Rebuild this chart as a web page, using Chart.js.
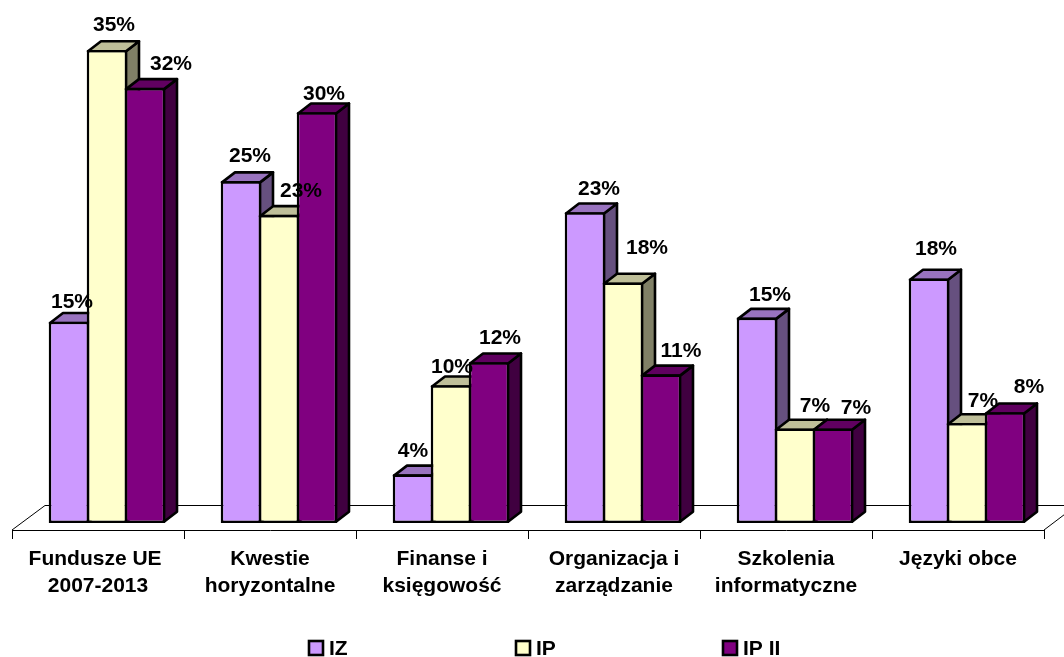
<!DOCTYPE html>
<html>
<head>
<meta charset="utf-8">
<style>html,body{margin:0;padding:0;background:#fff}canvas{display:block}</style>
<script src="https://cdn.jsdelivr.net/npm/chart.js@4"></script>
</head>
<body>
<canvas id="c" width="1064" height="657"></canvas>
<script>
const categories = [['Fundusze UE ','2007-2013'],['Kwestie','horyzontalne'],['Finanse i','księgowość'],['Organizacja i','zarządzanie'],['Szkolenia','informatyczne'],['Języki obce']];
const seriesNames = ['IZ','IP','IP II'];
const izValues = [14.9,25.3,3.6,23,15.2,18.1];
const ipValues = [35,22.8,10.2,17.8,7,7.4];
const ip2Values = [32.2,30.4,11.9,11,7,8.2];
const seriesColors = ['#CC99FF','#FFFFCC','#800080'];
const topColors = ['#9973BF','#BFBF99','#600060'];
const sideColors = ['#66507F','#808066','#400040'];
const labelFont = 'bold 21px "Liberation Sans", Arial, sans-serif';
const DEPTH_X = 13, DEPTH_Y = 10, AXIS_SHIFT = 9, AXIS_DROP = 8, EDGE = 2.6;
// manual label placement, as in the original: offset from bar centre / bar top
const labelDX = [[3,9,0,14,13,7],[7,22,1,24,20,16],[26,7,11,20,23,24]];
const labelDY = [[-14,-19,-17,-17,-17,-23],[-19,-18,-12,-28,-16,-16],[-18,-12,-18,-17,-14,-19]];
const legendX = [309,516,723];

function poly(ctx, pts, fill){
  ctx.beginPath();
  pts.forEach((p,i)=> i ? ctx.lineTo(p[0],p[1]) : ctx.moveTo(p[0],p[1]));
  ctx.closePath();
  ctx.fillStyle = fill; ctx.fill();
  ctx.lineWidth = EDGE; ctx.strokeStyle = '#000'; ctx.lineJoin='round'; ctx.stroke();
}

const bars3d = {
  id:'bars3d',
  beforeDatasetDraw(){ return false; },
  beforeDatasetsDraw(chart){
    const {ctx, chartArea:a, scales:{x}} = chart;
    const step = x.getPixelForValue(1) - x.getPixelForValue(0);
    const left = x.getPixelForValue(0) - step/2 - AXIS_SHIFT;
    const n = categories.length;
    const yFront = a.bottom + AXIS_DROP - 1, yBack = yFront - 25;
    ctx.save();
    ctx.strokeStyle='#000'; ctx.lineWidth=1;
    ctx.beginPath();
    ctx.moveTo(left+.5,yFront+.5); ctx.lineTo(left+n*step+.5,yFront+.5);
    for(let i=0;i<=n;i++){ const t=Math.round(left+i*step)+.5; ctx.moveTo(t,yFront); ctx.lineTo(t,yFront+9); }
    ctx.moveTo(left,yFront); ctx.lineTo(left+33,yBack+.5); ctx.lineTo(left+n*step+33,yBack+.5);
    ctx.moveTo(left+n*step,yFront); ctx.lineTo(left+n*step+33,yBack);
    ctx.stroke();
    // paint series left to right so each bar covers the depth faces of its left neighbour
    chart.data.datasets.forEach((d,ds)=>{
      const meta = chart.getDatasetMeta(ds);
      meta.data.forEach(b=>{
        const {x,y,base,width} = b.getProps(['x','y','base','width'],true);
        const i=EDGE/2, l=x-width/2+i, r=x+width/2-i, t=y+i, bt=base-i;
        poly(ctx,[[r,t],[r+DEPTH_X,t-DEPTH_Y],[r+DEPTH_X,bt-DEPTH_Y],[r,bt]],sideColors[ds]);
        poly(ctx,[[l,t],[l+DEPTH_X,t-DEPTH_Y],[r+DEPTH_X,t-DEPTH_Y],[r,t]],topColors[ds]);
      });
      meta.controller.draw();
    });
    ctx.restore();
  },
  afterDatasetsDraw(chart){
    const ctx = chart.ctx;
    ctx.save();
    ctx.font = labelFont; ctx.fillStyle='#000'; ctx.textAlign='center'; ctx.textBaseline='alphabetic';
    chart.data.datasets.forEach((d,s)=>{
      chart.getDatasetMeta(s).data.forEach((b,i)=>{
        const p = b.getProps(['x','y'],true);
        ctx.fillText(Math.round(d.data[i])+'%', p.x+labelDX[s][i], p.y+labelDY[s][i]);
      });
    });
    ctx.textAlign='left';
    seriesNames.forEach((name,s)=>{
      ctx.fillStyle=seriesColors[s]; ctx.strokeStyle='#000'; ctx.lineWidth=2.6;
      ctx.fillRect(legendX[s],641,14,14); ctx.strokeRect(legendX[s],641,14,14);
      ctx.fillStyle='#000';
      ctx.fillText(name,legendX[s]+20,655);
    });
    ctx.restore();
  }
};

new Chart(document.getElementById('c'),{
  type:'bar',
  data:{
    labels:categories,
    datasets:[izValues,ipValues,ip2Values].map((v,i)=>({
      label:seriesNames[i], data:v,
      backgroundColor:seriesColors[i], borderColor:'#000', borderWidth:EDGE, borderSkipped:false
    }))
  },
  options:{
    responsive:false, animation:false,
    layout:{padding:{left:21,right:11,top:50,bottom:0}},
    categoryPercentage:0.6628, barPercentage:1.068,
    plugins:{legend:{display:false},tooltip:{enabled:false}},
    scales:{
      x:{
        grid:{display:false}, border:{display:false},
        afterFit(s){ s.height = 134; },
        ticks:{color:'#000',font:{family:'"Liberation Sans", Arial, sans-serif',size:21,weight:'bold',lineHeight:1.32},
          padding:14,labelOffset:-AXIS_SHIFT,maxRotation:0,minRotation:0,autoSkip:false}
      },
      y:{display:false,min:0,max:35}
    }
  },
  plugins:[bars3d]
});
</script>
</body>
</html>
